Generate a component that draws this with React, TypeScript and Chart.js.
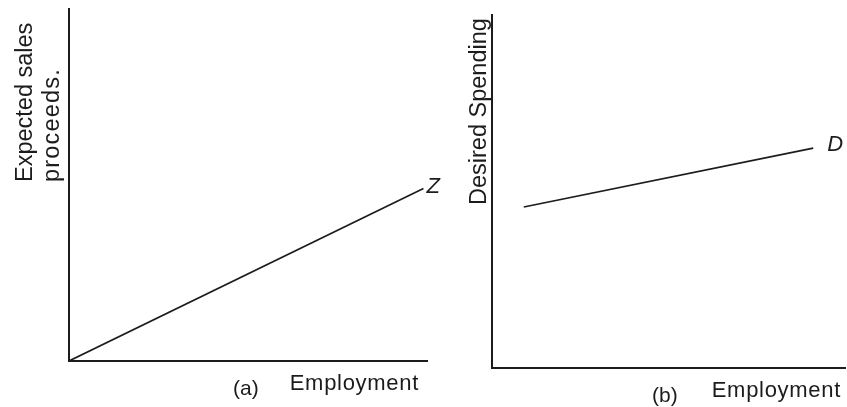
import React, { useEffect, useRef } from 'react';
import { Chart, registerables } from 'chart.js';

Chart.register(...registerables);

// ---- Data ----
const employmentA = [0, 99];
const salesProceedsA = [0, 49];
const employmentB = [9, 91];
const desiredSpendingB = [45.6, 62.3];

const curveLabelA = 'Z';
const curveLabelB = 'D';
const yTitleA = ['Expected sales', 'proceeds.'];
const yTitleB = 'Desired Spending';
const xTitle = 'Employment';
const panelTagA = '(a)';
const panelTagB = '(b)';

const INK = '#1c1c1c';
const FONT = '"Liberation Sans", Arial, Helvetica, sans-serif';

type TextOpts = {
  size: number;
  italic?: boolean;
  align?: CanvasTextAlign;
  rotate?: boolean;
  spacing?: number;
};

function drawText(ctx: CanvasRenderingContext2D, text: string, x: number, y: number, o: TextOpts) {
  ctx.save();
  ctx.translate(x, y);
  if (o.rotate) ctx.rotate(-Math.PI / 2);
  ctx.font = `${o.italic ? 'italic ' : ''}${o.size}px ${FONT}`;
  (ctx as any).letterSpacing = `${o.spacing ?? 0}px`;
  ctx.textAlign = o.align ?? 'left';
  ctx.textBaseline = 'alphabetic';
  ctx.fillStyle = INK;
  ctx.fillText(text, 0, 0);
  ctx.restore();
}

type PanelProps = {
  left: number;
  width: number;
  xs: number[];
  ys: number[];
  padding: { left: number; top: number; right: number; bottom: number };
  annotate: (chart: Chart, ctx: CanvasRenderingContext2D) => void;
};

function Panel({ left, width, xs, ys, padding, annotate }: PanelProps) {
  const ref = useRef<HTMLCanvasElement | null>(null);
  useEffect(() => {
    if (!ref.current) return;
    const points = xs.map((x, i) => ({ x, y: ys[i] }));
    const axis = {
      type: 'linear' as const,
      min: 0,
      max: 100,
      grid: { display: false, drawTicks: false, tickLength: 0 },
      ticks: { display: false },
      border: { display: true, color: INK, width: 2 },
    };
    const chart = new Chart(ref.current, {
      type: 'line',
      data: {
        datasets: [
          {
            data: points,
            borderColor: INK,
            borderWidth: 1.7,
            pointRadius: 0,
            tension: 0,
            fill: false,
          },
        ],
      },
      options: {
        responsive: false,
        animation: false,
        devicePixelRatio: 1,
        layout: { padding, autoPadding: false },
        plugins: { legend: { display: false }, tooltip: { enabled: false } },
        scales: { x: axis, y: axis },
      },
      plugins: [
        {
          id: 'annotations',
          afterDraw(c: Chart) {
            annotate(c, c.ctx);
          },
        },
      ],
    });
    return () => chart.destroy();
  }, []);
  return (
    <canvas
      ref={ref}
      width={width}
      height={407}
      style={{ position: 'absolute', left, top: 0, width, height: 407 }}
    />
  );
}

export default function App() {
  const annotateA = (c: Chart, ctx: CanvasRenderingContext2D) => {
    const a = c.chartArea;
    const xs = c.scales.x;
    const ys = c.scales.y;
    const n = employmentA.length - 1;
    const px = xs.getPixelForValue(employmentA[n]);
    const py = ys.getPixelForValue(salesProceedsA[n]);
    drawText(ctx, curveLabelA, px + 3, py + 4, { size: 22, italic: true });
    drawText(ctx, yTitleA[0], a.left - 37.5, a.top + 173, { size: 23.5, rotate: true });
    drawText(ctx, yTitleA[1], a.left - 10.5, a.top + 173, { size: 23.5, rotate: true, spacing: 1.2 });
    drawText(ctx, xTitle, a.right - 8, a.bottom + 29, { size: 22, align: 'right', spacing: 0.7 });
    drawText(ctx, panelTagA, a.left + 164, a.bottom + 34, { size: 21 });
  };
  const annotateB = (c: Chart, ctx: CanvasRenderingContext2D) => {
    const a = c.chartArea;
    const xs = c.scales.x;
    const ys = c.scales.y;
    const n = employmentB.length - 1;
    const px = xs.getPixelForValue(employmentB[n]);
    const py = ys.getPixelForValue(desiredSpendingB[n]);
    drawText(ctx, curveLabelB, px + 14, py + 3, { size: 22, italic: true });
    drawText(ctx, yTitleB, a.left - 6, a.top + 190, { size: 23.5, rotate: true });
    drawText(ctx, xTitle, a.right - 4, a.bottom + 29, { size: 22, align: 'right', spacing: 0.7 });
    drawText(ctx, panelTagB, a.left + 160, a.bottom + 34, { size: 21 });
  };
  return (
    <div style={{ position: 'absolute', left: 0, top: 0, width: 847, height: 407, background: '#fff' }}>
      <Panel
        left={0}
        width={460}
        xs={employmentA}
        ys={salesProceedsA}
        padding={{ left: 69, top: 9, right: 33, bottom: 46 }}
        annotate={annotateA}
      />
      <Panel
        left={430}
        width={417}
        xs={employmentB}
        ys={desiredSpendingB}
        padding={{ left: 62, top: 15, right: 2, bottom: 39 }}
        annotate={annotateB}
      />
    </div>
  );
}
